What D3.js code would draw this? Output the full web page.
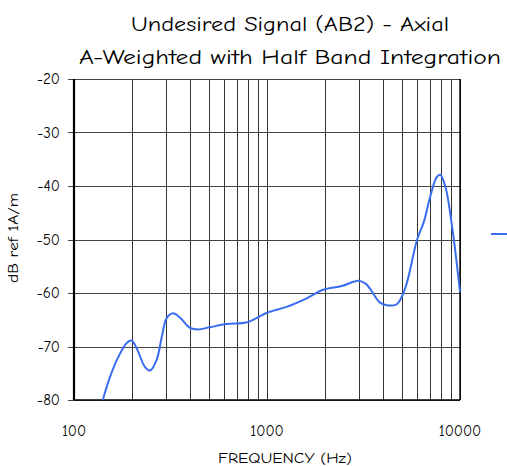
<!DOCTYPE html>
<html>
<head>
<meta charset="utf-8">
<script src="https://cdn.jsdelivr.net/npm/d3@7"></script>
<style>
  html, body { margin: 0; padding: 0; background: #fff; }
  svg { display: block; }
  text { font-family: "Comic Sans MS", "Comic Neue", "DejaVu Sans", sans-serif; fill: #000; }
</style>
</head>
<body>
<div id="chart"></div>
<script>
// data
const freqs = [141, 154, 170, 188, 199, 211, 233, 248, 268, 285, 302, 326, 354, 399, 440, 506, 617, 783, 883, 1000,
  1263, 1605, 1955, 2441, 2973, 3258, 3853, 4174, 4703, 5203, 5985, 6496, 7010, 7585, 7895, 8395, 9100, 10000];
const levels = [-80, -75.6, -71.9, -69.3, -68.9, -70.3, -73.8, -74.5, -72.5, -68.2, -64.7, -63.8, -64.6, -66.5, -66.8, -66.4, -65.8, -65.5, -64.7, -63.7,
  -62.6, -61.0, -59.4, -58.7, -57.7, -58.3, -61.8, -62.3, -62.1, -59.1, -50.1, -46.7, -42.0, -38.3, -37.9, -40.1, -47.6, -59.8];
const xTickLabels = [100, 1000, 10000];
const yTicks = [-80, -70, -60, -50, -40, -30, -20];
const titleLines = ["Undesired Signal (AB2) - Axial", "A-Weighted with Half Band Integration"];

const width = 507, height = 467;
const margin = { top: 79, right: 47, bottom: 67, left: 74 };
const plotW = width - margin.left - margin.right;
const plotH = height - margin.top - margin.bottom;

const svg = d3.select("#chart").append("svg")
  .attr("width", width)
  .attr("height", height);

const x = d3.scaleLog().domain([100, 10000]).range([0, plotW]);
const y = d3.scaleLinear().domain([-80, -20]).range([plotH, 0]);

const g = svg.append("g").attr("transform", `translate(${margin.left},${margin.top})`);

// vertical grid, every integer multiple inside each decade
const gridX = [];
for (let d = 100; d < 10000; d *= 10) {
  for (let k = 1; k < 10; k++) gridX.push(d * k);
}
gridX.push(10000);

g.selectAll(".vgrid")
  .data(gridX)
  .enter()
  .append("line")
  .attr("class", "vgrid")
  .attr("x1", d => Math.round(x(d)) + 0.5)
  .attr("x2", d => Math.round(x(d)) + 0.5)
  .attr("y1", 0)
  .attr("y2", plotH)
  .attr("stroke", "#333")
  .attr("stroke-width", 1);

g.selectAll(".hgrid")
  .data(yTicks)
  .enter()
  .append("line")
  .attr("class", "hgrid")
  .attr("x1", -6)
  .attr("x2", plotW)
  .attr("y1", d => Math.round(y(d)) + 0.5)
  .attr("y2", d => Math.round(y(d)) + 0.5)
  .attr("stroke", "#444")
  .attr("stroke-width", 1);

// frame
g.append("line").attr("x1", 0).attr("x2", 0).attr("y1", 0).attr("y2", plotH)
  .attr("stroke", "#000").attr("stroke-width", 2.2);
g.append("line").attr("x1", 0).attr("x2", plotW).attr("y1", plotH).attr("y2", plotH)
  .attr("stroke", "#000").attr("stroke-width", 1.6);
g.append("line").attr("x1", plotW).attr("x2", plotW).attr("y1", 0).attr("y2", plotH)
  .attr("stroke", "#000").attr("stroke-width", 1.4);

// tick labels
g.selectAll(".ylab")
  .data(yTicks)
  .enter()
  .append("text")
  .attr("class", "ylab")
  .attr("x", -14)
  .attr("y", d => y(d))
  .attr("dy", "0.35em")
  .attr("text-anchor", "end")
  .style("font-size", "15px")
  .text(d => d);

g.selectAll(".xlab")
  .data(xTickLabels)
  .enter()
  .append("text")
  .attr("class", "xlab")
  .attr("x", d => x(d))
  .attr("y", plotH + 36)
  .attr("text-anchor", "middle")
  .style("font-size", "15px")
  .text(d => d);

// the curve
const line = d3.line()
  .x(d => x(d[0]))
  .y(d => y(d[1]))
  .curve(d3.curveCatmullRom.alpha(0.5));

g.append("path")
  .datum(d3.zip(freqs, levels))
  .attr("d", line)
  .attr("fill", "none")
  .attr("stroke", "#3a6df0")
  .attr("stroke-width", 2);

// legend stub
svg.append("line")
  .attr("x1", 491).attr("x2", 507)
  .attr("y1", 234).attr("y2", 234)
  .attr("stroke", "#3a6df0")
  .attr("stroke-width", 2);

// titles and axis names
svg.append("text")
  .attr("x", 290).attr("y", 31)
  .attr("text-anchor", "middle")
  .attr("textLength", 318)
  .attr("lengthAdjust", "spacingAndGlyphs")
  .style("font-size", "21px")
  .text(titleLines[0]);

svg.append("text")
  .attr("x", 290).attr("y", 64)
  .attr("text-anchor", "middle")
  .attr("textLength", 422)
  .attr("lengthAdjust", "spacingAndGlyphs")
  .style("font-size", "21px")
  .text(titleLines[1]);

svg.append("text")
  .attr("transform", "translate(18,238) rotate(-90)")
  .attr("text-anchor", "middle")
  .attr("textLength", 90)
  .attr("lengthAdjust", "spacingAndGlyphs")
  .style("font-size", "13px")
  .text("dB ref 1A/m");

svg.append("text")
  .attr("x", 285).attr("y", 463)
  .attr("text-anchor", "middle")
  .attr("textLength", 134)
  .attr("lengthAdjust", "spacingAndGlyphs")
  .style("font-size", "14px")
  .text("FREQUENCY (Hz)");
</script>
</body>
</html>
